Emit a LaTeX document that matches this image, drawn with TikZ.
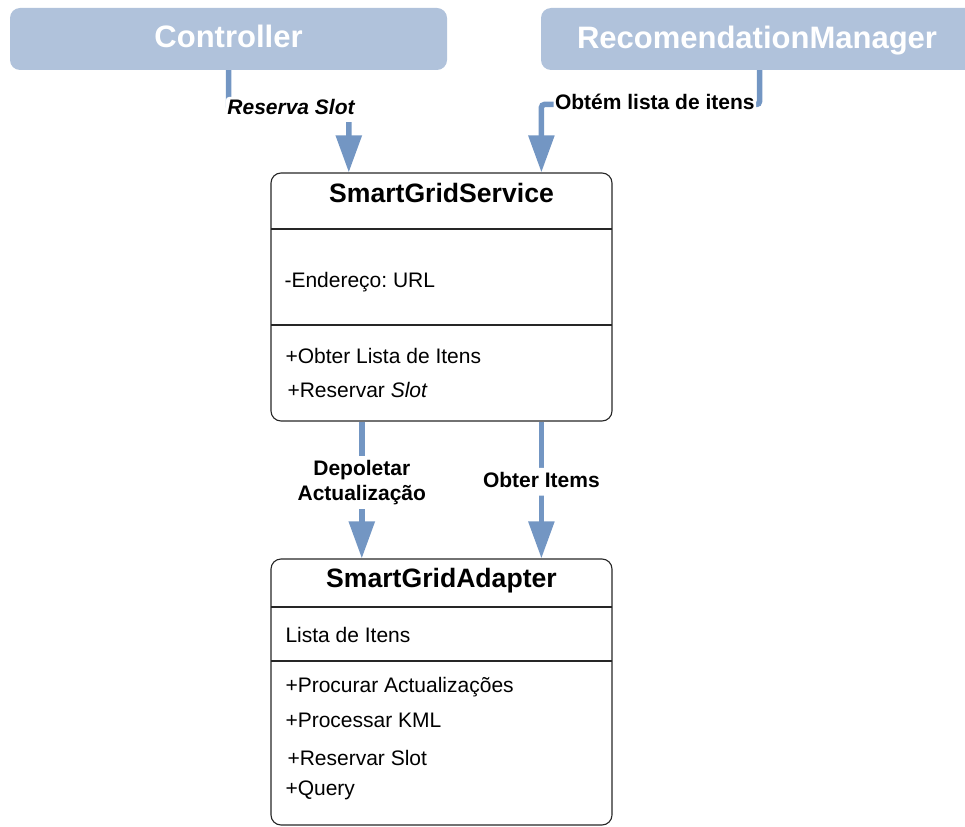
\documentclass[tikz,border=0pt]{standalone}
\usepackage{fontspec}
\setmainfont{Liberation Sans}
\usetikzlibrary{arrows.meta,calc}
\definecolor{flowblue}{RGB}{115,150,195}
\definecolor{actorfill}{RGB}{176,194,219}
\frenchspacing
\begin{document}
\begin{tikzpicture}[x=1pt,y=-1pt,
  actor/.style={fill=actorfill, rounded corners=10pt, minimum width=437pt,
    minimum height=62pt, inner sep=0pt},
  actortext/.style={anchor=base, text=white, font=\fontsize{31}{37}\selectfont\bfseries},
  classbox/.style={draw=black!85, line width=1.1pt, rounded corners=10pt,
    minimum width=341pt, inner sep=0pt},
  divider/.style={draw=black!85, line width=1.1pt},
  flow/.style={draw=flowblue, line width=5.5pt, rounded corners=3pt,
    -{Triangle[length=37pt,width=25pt]}},
  flowlabel/.style={fill=white, text=black, inner xsep=1.5pt, inner ysep=4pt,
    font=\fontsize{21}{25}\selectfont\bfseries},
  toplabel/.style={flowlabel, inner ysep=2pt, text height=16pt, text depth=5pt},
  title/.style={anchor=base, font=\fontsize{26.6}{31}\selectfont\bfseries},
  member/.style={anchor=base west, font=\fontsize{21}{25}\selectfont},
]
\useasboundingbox (0,0) rectangle (965,826);

% actors
\node[actor] (ctrl) at (228.5,39) {};
\node[actortext] (ctrltxt) at (228.5,48) {Controller};
\node[actor] (rm) at (759.5,39) {};
\node[actortext] (rmtxt) at (757,49) {RecomendationManager};

% SmartGridService class
\node[classbox, minimum height=248pt] (sgs) at (441.5,297) {};
\draw[divider] (271,229) -- (612,229);
\draw[divider] (271,325) -- (612,325);
\node[title] (sgsname) at (441.5,203) {SmartGridService};
\node[member] (sgsattr) at (281,287) {-Endereço: URL};
\node[member] (sgsop1) at (282,363) {+Obter Lista de Itens};
\node[member] (sgsop2) at (284,397) {+Reservar \textit{Slot}};

% SmartGridAdapter class
\node[classbox, minimum height=266pt] (sga) at (441.5,692) {};
\draw[divider] (271,607) -- (612,607);
\draw[divider] (271,661) -- (612,661);
\node[title] (sganame) at (441.5,587) {SmartGridAdapter};
\node[member] (sgaattr) at (282,642) {Lista de Itens};
\node[member] (sgaop1) at (282,692) {+Procurar Actualizações};
\node[member] (sgaop2) at (282,727) {+Processar KML};
\node[member] (sgaop3) at (284,765) {+Reservar Slot};
\node[member] (sgaop4) at (282,795) {+Query};

% connector end points on the class boxes
\coordinate (sgsinL) at ($(sgs.north west)!0.229!(sgs.north east)$);
\coordinate (sgsinR) at ($(sgs.north west)!0.792!(sgs.north east)$);
\coordinate (sgsoutL) at ($(sgs.south west)!0.267!(sgs.south east)$);
\coordinate (sgsoutR) at ($(sgs.south west)!0.792!(sgs.south east)$);
\coordinate (sgainL) at ($(sga.north west)!0.267!(sga.north east)$);
\coordinate (sgainR) at ($(sga.north west)!0.792!(sga.north east)$);

% messages
\draw[flow] (ctrl.south) -- (ctrl.south |- 0,109.5)
  -- node[toplabel, pos=0.52, font=\fontsize{21}{25}\selectfont\bfseries\itshape] (lblres) {Reserva Slot}
  (sgsinL |- 0,109.5) -- (sgsinL);
\draw[flow] (rm.south) -- (rm.south |- 0,104.5)
  -- node[toplabel, pos=0.48] (lblobt) {Obtém lista de itens}
  (sgsinR |- 0,104.5) -- (sgsinR);
\draw[flow] (sgsoutL) -- node[flowlabel, align=center, pos=0.445] (lbldep)
  {Depoletar\\Actualização} (sgainL);
\draw[flow] (sgsoutR) -- node[flowlabel, text depth=4.5pt, pos=0.44] (lblitems)
  {Obter Items} (sgainR);
\end{tikzpicture}
\end{document}
